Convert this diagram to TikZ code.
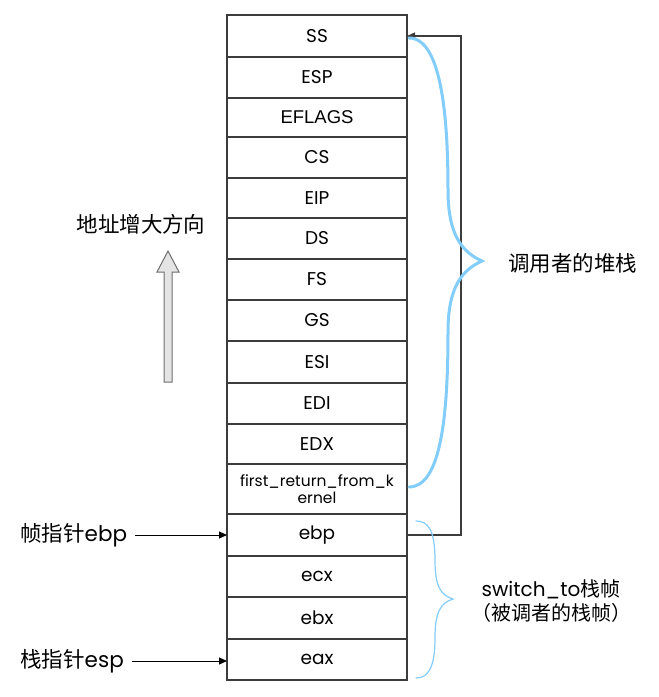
\documentclass[tikz,border=0pt]{standalone}
\usepackage{fontspec}
\setmainfont{Poppins}
\newfontfamily\cjk{Noto Sans CJK SC}
\newfontfamily\helv{Liberation Sans}
\usetikzlibrary{arrows.meta}
\definecolor{boxline}{RGB}{60,60,60}
\definecolor{braceblue}{RGB}{130,205,250}
\definecolor{arrgray}{RGB}{110,110,110}
\definecolor{arrfill}{RGB}{228,228,228}
\tikzset{
  cell/.style={draw=boxline, line width=1.3pt, minimum width=180pt, inner sep=0pt, outer sep=0pt, font=\fontsize{18.5}{21}\selectfont, align=center},
  lbl/.style={inner sep=0pt, font=\fontsize{21.5}{25}\selectfont},
  ptr/.style={-{Triangle[length=8pt,width=7pt]}, line width=1pt, black},
}
\begin{document}
\begin{tikzpicture}[x=1pt,y=-1pt]
\useasboundingbox (0,0) rectangle (659,697);
% cells: boundaries 15,57,98,137,178,218,259,300,341,383,424,464,514,556,597,639,680
\node[cell, minimum height=42pt] (ss) at (317,36) {SS};
\node[cell, minimum height=41pt] (esp) at (317,77.5) {ESP};
\node[cell, minimum height=39pt] (efl) at (317,117.5) {\helv EFLAGS};
\node[cell, minimum height=41pt] (cs) at (317,157.5) {CS};
\node[cell, minimum height=40pt] (eip) at (317,198) {EIP};
\node[cell, minimum height=41pt] (ds) at (317,238.5) {DS};
\node[cell, minimum height=41pt] (fs) at (317,279.5) {FS};
\node[cell, minimum height=41pt] (gs) at (317,320.5) {GS};
\node[cell, minimum height=42pt] (esi) at (317,362) {ESI};
\node[cell, minimum height=41pt] (edi) at (317,403.5) {EDI};
\node[cell, minimum height=40pt] (edx) at (317,444) {EDX};
\node[cell, minimum height=50pt, font=\fontsize{15.5}{17}\selectfont] (frk) at (317,489) {first\_return\_from\_k\\ernel};
\node[cell, minimum height=42pt] (ebp) at (317,535) {ebp};
\node[cell, minimum height=41pt] (ecx) at (317,576.5) {ecx};
\node[cell, minimum height=42pt] (ebx) at (317,618) {ebx};
\node[cell, minimum height=41pt] (eax) at (317,659.5) {eax};

% loop arrow from ebp back to SS
\draw[ptr, draw=boxline, line width=1.3pt] (ebp.east) -- ++(54,0) coordinate (lc) |- (ss.east);

% caller brace (thick)
\draw[braceblue, line width=3pt, line cap=round]
  (409,38) .. controls (440,38) and (448,110) .. (448,190)
  .. controls (448,235) and (462,252) .. (482,261)
  .. controls (462,270) and (448,287) .. (448,332)
  .. controls (448,420) and (440,487) .. (409,487);
\node[lbl, anchor=west] (caller) at (508,263) {\cjk 调用者的堆栈};

% switch_to brace (thin)
\draw[braceblue, line width=1.2pt, line cap=round]
  (416,521) .. controls (428,521) and (435,530) .. (435,560)
  .. controls (435,585) and (440,595) .. (453,599)
  .. controls (440,603) and (435,613) .. (435,638)
  .. controls (435,668) and (428,678) .. (416,678);
\node[lbl, font=\fontsize{20}{22}\selectfont] (sw1) at (551,589) {switch\_to{\cjk 栈帧}};
\node[lbl, font=\fontsize{20}{22}\selectfont] (sw2) at (551,613) {\cjk （被调者的栈帧）};

% pointers on left
\node[lbl, anchor=west] (fp) at (20,535) {{\cjk 帧指针}ebp};
\node[lbl, anchor=west] (sp) at (20,661) {{\cjk 栈指针}esp};
\draw[ptr] ([xshift=8pt]fp.east) -- (ebp.west);
\draw[ptr] ([xshift=8pt]sp.east) -- (eax.west |- sp.east);

% address growth direction
\node[lbl] (dir) at (141,224) {\cjk 地址增大方向};
\draw[draw=arrgray, fill=arrfill, line width=1pt]
  (164,382) -- (172,382) -- (172,272) -- (179,272) -- (168,251) -- (157,272) -- (164,272) -- cycle;
\end{tikzpicture}
\end{document}
